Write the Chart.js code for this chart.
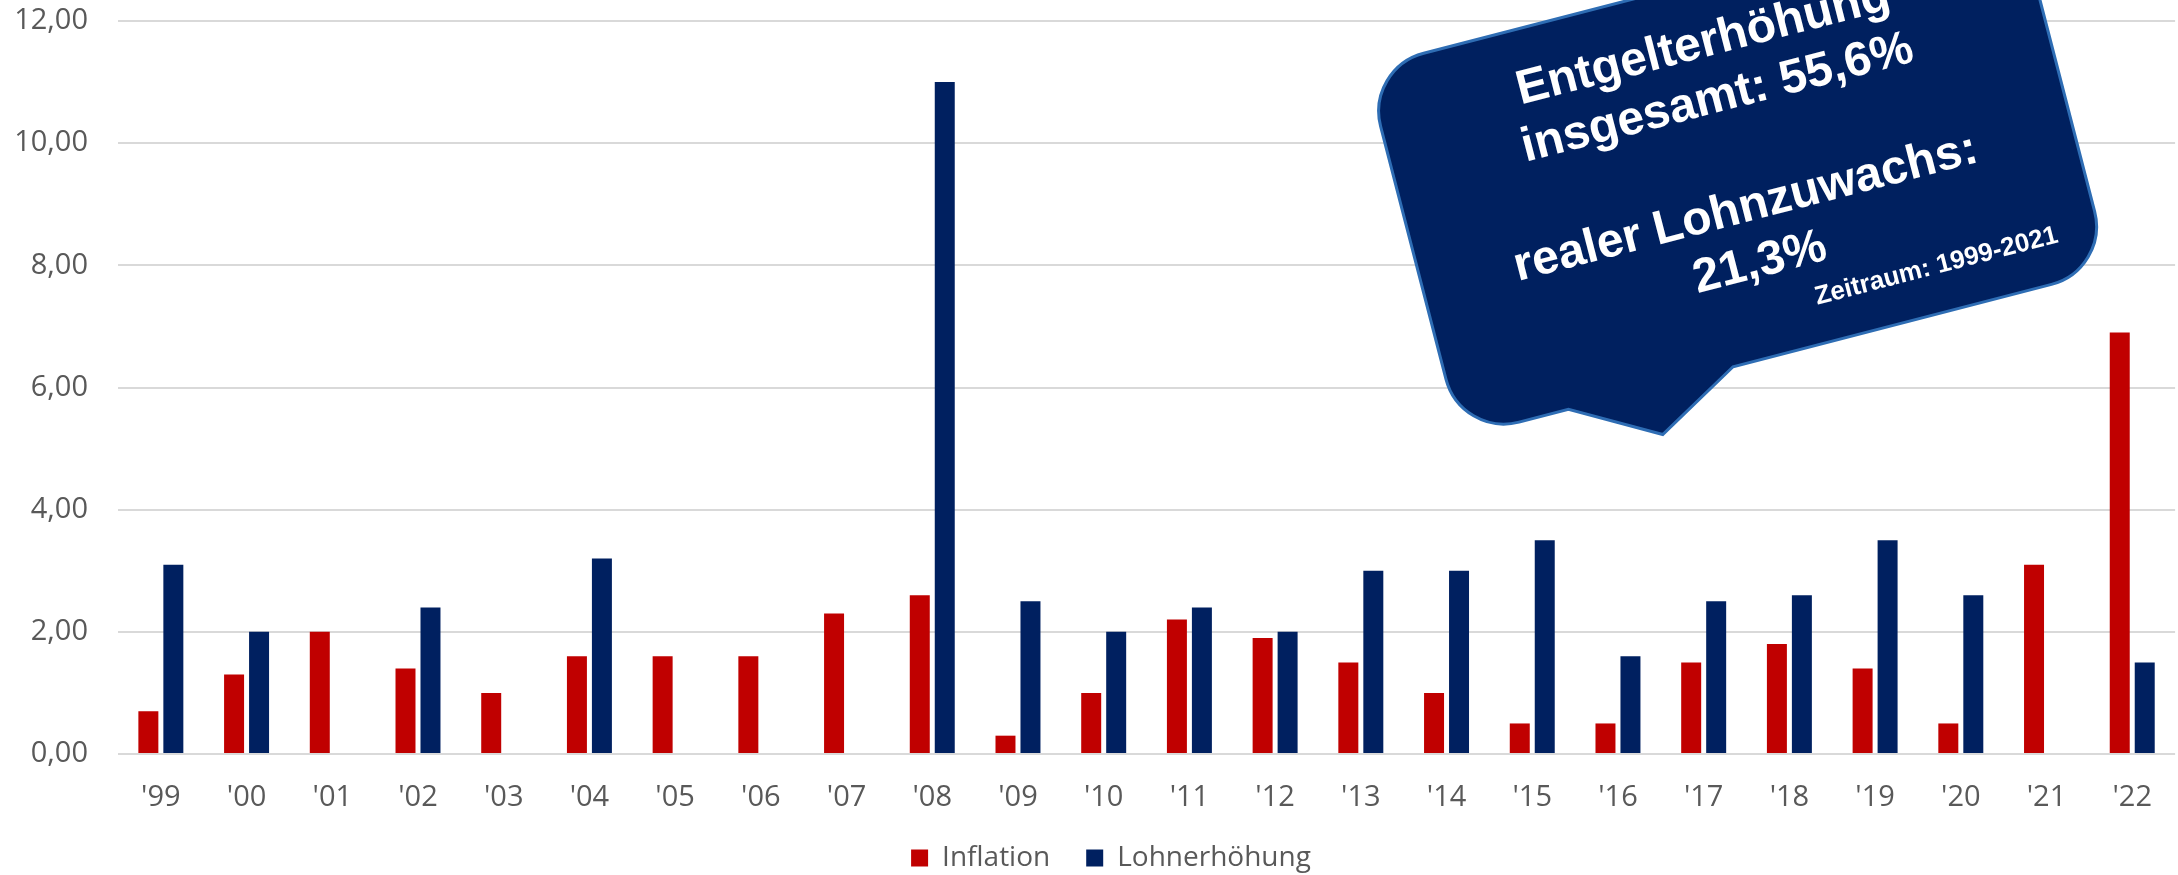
<!DOCTYPE html>
<html lang="de">
<head>
<meta charset="utf-8">
<title>Inflation und Lohnerhöhung</title>
<script src="https://cdn.jsdelivr.net/npm/chart.js@4.4.1/dist/chart.umd.min.js"></script>
<style>
  html, body { margin: 0; padding: 0; background: #fff; overflow: hidden; }
  #frame { width: 2178px; height: 875px; overflow: hidden; position: relative; }
  #wrap { width: 2178px; height: 882px; position: absolute; left: 0; top: 0; }
</style>
</head>
<body>
<div id="frame"><div id="wrap"><canvas id="chart"></canvas></div></div>
<script>
const categories = ["'99", "'00", "'01", "'02", "'03", "'04", "'05", "'06", "'07", "'08", "'09", "'10",
                    "'11", "'12", "'13", "'14", "'15", "'16", "'17", "'18", "'19", "'20", "'21", "'22"];
const inflation = [0.7, 1.3, 2.0, 1.4, 1.0, 1.6, 1.6, 1.6, 2.3, 2.6, 0.3, 1.0,
                   2.2, 1.9, 1.5, 1.0, 0.5, 0.5, 1.5, 1.8, 1.4, 0.5, 3.1, 6.9];
const lohnerhoehung = [3.1, 2.0, null, 2.4, null, 3.2, null, null, null, 11.0, 2.5, 2.0,
                       2.4, 2.0, 3.0, 3.0, 3.5, 1.6, 2.5, 2.6, 3.5, 2.6, null, 1.5];
const yMax = 12;
const yStep = 2;

const bubbleLines = ['Entgelterhöhung', 'insgesamt: 55,6%', '', 'realer Lohnzuwachs:', '21,3%'];
const bubbleNote = 'Zeitraum: 1999-2021';

// Sprechblase (rotiert) ueber dem Diagramm
const bubblePlugin = {
  id: 'bubble',
  afterLayout(chart) {
    // Legende etwas nach rechts wie im Original
    chart.legend.left += 22;
    chart.legend.right += 22;
  },
  afterDraw(chart) {
    const ctx = chart.ctx;
    const ang = 14.5 * Math.PI / 180;
    const x0 = 1305, x1 = 1975, y0 = 408, y1 = 789, r = 60;
    ctx.save();
    ctx.rotate(-ang);
    ctx.beginPath();
    ctx.moveTo(x0 + r, y0);
    ctx.lineTo(x1 - r, y0);
    ctx.arcTo(x1, y0, x1, y0 + r, r);
    ctx.lineTo(x1, y1 - r);
    ctx.arcTo(x1, y1, x1 - r, y1, r);
    ctx.lineTo(1586, y1);
    ctx.lineTo(1501, 837);
    ctx.lineTo(1416, y1);
    ctx.lineTo(x0 + r, y1);
    ctx.arcTo(x0, y1, x0, y1 - r, r);
    ctx.lineTo(x0, y0 + r);
    ctx.arcTo(x0, y0, x0 + r, y0, r);
    ctx.closePath();
    ctx.fillStyle = '#00205F';
    ctx.fill();
    ctx.lineWidth = 3;
    ctx.strokeStyle = '#2E6DB4';
    ctx.stroke();

    ctx.fillStyle = '#ffffff';
    ctx.textAlign = 'center';
    ctx.textBaseline = 'alphabetic';
    ctx.font = 'bold 48px "Liberation Sans", Arial, sans-serif';
    bubbleLines.forEach((t, i) => {
      if (t) ctx.fillText(t, 1638, 482 + i * 56.7);
    });
    ctx.font = 'bold 26px "Liberation Sans", Arial, sans-serif';
    ctx.fillText(bubbleNote, 1808, 750);
    ctx.restore();
  }
};

const ctx = document.getElementById('chart').getContext('2d');
new Chart(ctx, {
  type: 'bar',
  data: {
    labels: categories,
    datasets: [{
      label: 'Inflation',
      data: inflation,
      backgroundColor: '#C00000',
      borderWidth: 0,
      categoryPercentage: 0.583,
      barPercentage: 0.8
    }, {
      label: 'Lohnerhöhung',
      data: lohnerhoehung,
      backgroundColor: '#002060',
      borderWidth: 0,
      categoryPercentage: 0.583,
      barPercentage: 0.8
    }]
  },
  options: {
    responsive: true,
    maintainAspectRatio: false,
    devicePixelRatio: 1,
    animation: false,
    layout: { padding: 0 },
    plugins: {
      tooltip: { enabled: false },
      legend: {
        position: 'bottom',
        labels: {
          boxWidth: 17,
          boxHeight: 17,
          padding: 36,
          color: '#595959',
          font: { family: '"Open Sans", sans-serif', size: 28 }
        }
      }
    },
    scales: {
      x: {
        grid: { display: false, drawTicks: false },
        border: { display: false },
        ticks: {
          color: '#595959',
          padding: 26,
          maxRotation: 0,
          autoSkip: false,
          font: { family: '"Open Sans", sans-serif', size: 29 }
        },
        afterFit(scale) { scale.height = 54; }
      },
      y: {
        min: 0,
        max: yMax,
        grid: { color: '#d9d9d9', lineWidth: 2, drawTicks: false },
        border: { display: false },
        ticks: {
          stepSize: yStep,
          color: '#595959',
          padding: 30,
          font: { family: '"Open Sans", sans-serif', size: 29 },
          callback: v => v.toFixed(2).replace('.', ',')
        },
        afterFit(scale) { scale.width = 118; scale.paddingTop = 21; }
      }
    }
  },
  plugins: [bubblePlugin]
});
</script>
</body>
</html>
